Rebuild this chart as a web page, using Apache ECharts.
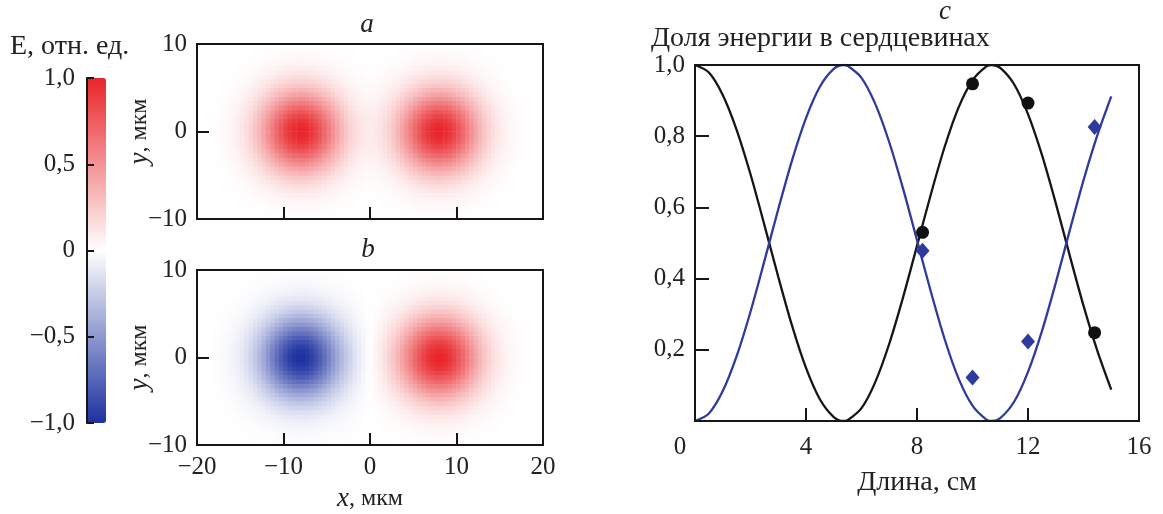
<!DOCTYPE html>
<html><head><meta charset="utf-8">
<script src="https://cdn.jsdelivr.net/npm/echarts@6/dist/echarts.min.js"></script>
<style>html,body{margin:0;padding:0;background:#fff}#c{width:1163px;height:514px}</style>
</head><body><div id="c"></div>
<script>
// ---- panel c: energy fraction in the cores vs length ----
const lengthCm = [0,0.5,1,1.5,2,2.5,3,3.5,4,4.5,5,5.35,5.5,6,6.5,7,7.5,8,8.5,9,9.5,10,10.5,10.7,11,11.5,12,12.5,13,13.5,14,14.5,15];
const energyCore1 = [1.000,0.979,0.916,0.818,0.693,0.551,0.405,0.267,0.149,0.061,0.011,0.000,0.002,0.036,0.110,0.217,0.348,0.492,0.637,0.771,0.881,0.957,0.996,1.000,0.992,0.946,0.862,0.748,0.612,0.466,0.324,0.197,0.088];
const energyCore2 = [0.000,0.021,0.084,0.182,0.307,0.449,0.595,0.733,0.851,0.939,0.989,1.000,0.998,0.964,0.890,0.783,0.652,0.508,0.363,0.229,0.119,0.043,0.004,0.000,0.008,0.054,0.138,0.252,0.388,0.534,0.676,0.803,0.912];
const measuredLength = [8.2, 10, 12, 14.4];
const measuredCore1 = [0.53, 0.947, 0.893, 0.248];
const measuredCore2 = [0.478, 0.122, 0.223, 0.826];
const xTicksC = [0, 4, 8, 12, 16];
const yTicksC = [0.2, 0.4, 0.6, 0.8, 1.0];

// ---- panels a, b: mode field maps ----
const fieldX = [-19.75,-19.25,-18.75,-18.25,-17.75,-17.25,-16.75,-16.25,-15.75,-15.25,-14.75,-14.25,-13.75,-13.25,-12.75,-12.25,-11.75,-11.25,-10.75,-10.25,-9.75,-9.25,-8.75,-8.25,-7.75,-7.25,-6.75,-6.25,-5.75,-5.25,-4.75,-4.25,-3.75,-3.25,-2.75,-2.25,-1.75,-1.25,-0.75,-0.25,0.25,0.75,1.25,1.75,2.25,2.75,3.25,3.75,4.25,4.75,5.25,5.75,6.25,6.75,7.25,7.75,8.25,8.75,9.25,9.75,10.25,10.75,11.25,11.75,12.25,12.75,13.25,13.75,14.25,14.75,15.25,15.75,16.25,16.75,17.25,17.75,18.25,18.75,19.25,19.75];
const fieldY = [-9.75,-9.25,-8.75,-8.25,-7.75,-7.25,-6.75,-6.25,-5.75,-5.25,-4.75,-4.25,-3.75,-3.25,-2.75,-2.25,-1.75,-1.25,-0.75,-0.25,0.25,0.75,1.25,1.75,2.25,2.75,3.25,3.75,4.25,4.75,5.25,5.75,6.25,6.75,7.25,7.75,8.25,8.75,9.25,9.75];
// field amplitude vs distance from a core centre: |d| = 0.25, 0.75, 1.25 ... 9.75 µm
const modeProfile = [0.997,0.974,0.929,0.865,0.787,0.700,0.607,0.514,0.426,0.344,0.272,0.210,0.158,0.116,0.083,0.059,0.040,0.027,0.018,0.011];
const coreCentres = [-8, 8];
const coreSignsA = [1, 1];
const coreSignsB = [-1, 1];
const xTicksAB = [-20, -10, 0, 10, 20];
const yTicksAB = [-10, 0, 10];
const colorbarTicks = [-1, -0.5, 0, 0.5, 1];

function prof(d) {
  const k = Math.round((Math.abs(d) - 0.25) / 0.5);
  return k < modeProfile.length ? modeProfile[k] : 0;
}
function buildField(signs) {
  const out = [];
  fieldX.forEach((x, i) => {
    fieldY.forEach((y, j) => {
      let v = 0;
      coreCentres.forEach((c, m) => { v += signs[m] * prof(x - c) * prof(y); });
      out.push([i, j, v]);
    });
  });
  return out;
}

const FONT = 'Liberation Serif';
const TXT = '#222';
const LINE = '#161616';
function comma(v, digits) {
  if (v === 0) return '0';
  const s = Math.abs(v).toFixed(digits).replace('.', ',');
  return (v < 0 ? '\u2212' : '') + s;
}
function minus(v) { return (v < 0 ? '\u2212' : '') + Math.abs(v); }

const labelStyle = { color: TXT, fontFamily: FONT, fontSize: 25 };

function valueAxisAB(grid, dim, showLabel, name) {
  const isX = dim === 'x';
  const ticks = isX ? xTicksAB : yTicksAB;
  const ax = {
    type: 'value', gridIndex: grid, min: ticks[0], max: ticks[ticks.length - 1], interval: 10,
    position: isX ? 'bottom' : 'left', z: 10,
    axisLine: { show: true, onZero: false, lineStyle: { color: LINE, width: 2 } },
    axisTick: { show: true, inside: true, length: 12, lineStyle: { color: LINE, width: 2 } },
    splitLine: { show: false },
    axisLabel: Object.assign({ show: showLabel, margin: 10, formatter: minus }, labelStyle)
  };
  if (name) {
    ax.name = name;
    ax.nameLocation = 'middle';
    ax.nameTextStyle = { color: TXT, fontFamily: FONT, fontSize: 24,
      rich: { i: { fontFamily: FONT, fontStyle: 'italic', fontSize: 27, color: TXT } } };
    if (isX) { ax.nameGap = 40; } else { ax.nameGap = 44; ax.nameRotate = 90; ax.nameMoveOverlap = false; }
  }
  return ax;
}

const option = {
  backgroundColor: '#fff',
  animation: false,
  grid: [
    { left: 197, top: 44, width: 346, height: 175, show: true, borderColor: LINE, borderWidth: 2, z: 10, backgroundColor: 'transparent' },
    { left: 197, top: 270, width: 346, height: 175, show: true, borderColor: LINE, borderWidth: 2, z: 10, backgroundColor: 'transparent' },
    { left: 695, top: 65, width: 444, height: 356, show: true, borderColor: LINE, borderWidth: 2, z: 10, backgroundColor: 'transparent' },
    { left: 87, top: 78, width: 19, height: 345, show: false }
  ],
  visualMap: {
    type: 'continuous', min: -1, max: 1, seriesIndex: [0, 1], calculable: false,
    left: 87, top: 78, itemWidth: 19, itemHeight: 345, padding: 0, text: null,
    inRange: { color: ['#1d31a0', '#ffffff', '#e8262b'] }
  },
  xAxis: [
    { type: 'category', gridIndex: 0, data: fieldX, show: false },
    valueAxisAB(0, 'x', false),
    { type: 'category', gridIndex: 1, data: fieldX, show: false },
    valueAxisAB(1, 'x', true, '{i|x}, мкм'),
    {
      type: 'value', gridIndex: 2, position: 'bottom', min: xTicksC[0], max: xTicksC[xTicksC.length - 1], interval: 4, z: 10,
      axisLine: { show: true, lineStyle: { color: LINE, width: 2 } },
      axisTick: { show: true, inside: true, length: 13, lineStyle: { color: LINE, width: 2 } },
      splitLine: { show: false },
      axisLabel: Object.assign({ margin: 14, formatter: v => v === 0 ? '{z|0}' : String(v),
        rich: { z: { padding: [0, 30, 0, 0], color: TXT, fontFamily: FONT, fontSize: 25 } } }, labelStyle),
      name: 'Длина, см', nameLocation: 'middle', nameGap: 48,
      nameTextStyle: { color: TXT, fontFamily: FONT, fontSize: 28 }
    },
    { type: 'value', gridIndex: 3, show: false, min: 0, max: 1 }
  ],
  yAxis: [
    { type: 'category', gridIndex: 0, data: fieldY, show: false },
    valueAxisAB(0, 'y', true, '{i|y}, мкм'),
    { type: 'category', gridIndex: 1, data: fieldY, show: false },
    valueAxisAB(1, 'y', true, '{i|y}, мкм'),
    {
      type: 'value', gridIndex: 2, position: 'left', min: 0, max: 1, interval: 0.2, z: 10,
      axisLine: { show: true, lineStyle: { color: LINE, width: 2 } },
      axisTick: { show: true, inside: true, length: 14, lineStyle: { color: LINE, width: 2 } },
      splitLine: { show: false },
      axisLabel: Object.assign({ margin: 10, formatter: v => v === 0 ? '' : comma(v, 1) }, labelStyle)
    },
    {
      type: 'value', gridIndex: 3, position: 'left', min: colorbarTicks[0], max: colorbarTicks[colorbarTicks.length - 1], interval: 0.5, z: 10,
      axisLine: { show: true, lineStyle: { color: LINE, width: 2 } },
      axisTick: { show: true, inside: true, length: 7, lineStyle: { color: LINE, width: 2 } },
      splitLine: { show: false },
      axisLabel: Object.assign({ margin: 12, formatter: v => v === 0 ? '0' : comma(v, 1) }, labelStyle)
    }
  ],
  series: [
    { type: 'heatmap', xAxisIndex: 0, yAxisIndex: 0, data: buildField(coreSignsA), z: 1, itemStyle: { borderWidth: 0 }, emphasis: { disabled: true } },
    { type: 'heatmap', xAxisIndex: 2, yAxisIndex: 2, data: buildField(coreSignsB), z: 1, itemStyle: { borderWidth: 0 }, emphasis: { disabled: true } },
    { type: 'line', xAxisIndex: 4, yAxisIndex: 4, data: lengthCm.map((x, i) => [x, energyCore1[i]]), smooth: 0.3, showSymbol: false, lineStyle: { color: '#151515', width: 2.3 }, z: 3 },
    { type: 'line', xAxisIndex: 4, yAxisIndex: 4, data: lengthCm.map((x, i) => [x, energyCore2[i]]), smooth: 0.3, showSymbol: false, lineStyle: { color: '#2e3a9c', width: 2.3 }, z: 3 },
    { type: 'scatter', xAxisIndex: 4, yAxisIndex: 4, data: measuredLength.map((x, i) => [x, measuredCore1[i]]), symbol: 'circle', symbolSize: 13, itemStyle: { color: '#111', opacity: 1 }, z: 4 },
    { type: 'scatter', xAxisIndex: 4, yAxisIndex: 4, data: measuredLength.map((x, i) => [x, measuredCore2[i]]), symbol: 'diamond', symbolSize: [14, 16], itemStyle: { color: '#2e3b9c', opacity: 1 }, z: 4 }
  ],
  graphic: [
    { type: 'text', x: 10, y: 47, style: { text: 'E, отн. ед.', font: '28px "Liberation Serif"', fill: TXT, textVerticalAlign: 'middle' } },
    { type: 'text', x: 367, y: 25, style: { text: 'a', font: 'italic 27px "Liberation Serif"', fill: TXT, textAlign: 'center', textVerticalAlign: 'middle' } },
    { type: 'text', x: 368, y: 250, style: { text: 'b', font: 'italic 27px "Liberation Serif"', fill: TXT, textAlign: 'center', textVerticalAlign: 'middle' } },
    { type: 'text', x: 945, y: 12, style: { text: 'c', font: 'italic 27px "Liberation Serif"', fill: TXT, textAlign: 'center', textVerticalAlign: 'middle' } },
    { type: 'text', x: 651, y: 39, style: { text: 'Доля энергии в сердцевинах', font: '28px "Liberation Serif"', fill: TXT, textVerticalAlign: 'middle' } }
  ]
};
const chart = echarts.init(document.getElementById('c'), null, { renderer: 'canvas' });
chart.setOption(option);
</script></body></html>
